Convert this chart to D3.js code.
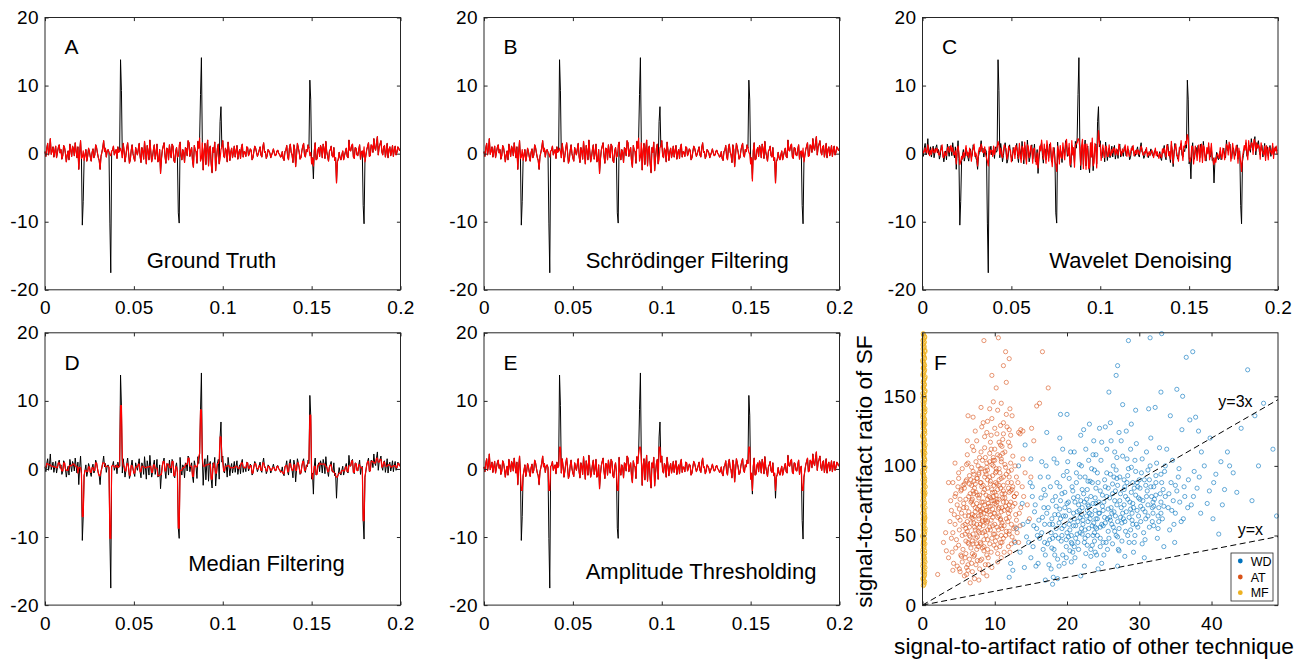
<!DOCTYPE html>
<html><head><meta charset="utf-8">
<script src="https://cdn.jsdelivr.net/npm/d3@7"></script>
<style>
body{margin:0;background:#fff}
svg{display:block;background:#fff}
text{font-family:"Liberation Sans",Arial,Helvetica,sans-serif;fill:#000}
</style>
</head><body>
<svg id="chart" width="1307" height="664"></svg>
<script>
// ---------------- DATA ----------------
const samplePeriod = 0.0005; // s between samples (400 samples over 0.2 s)
// ground truth (red, panel A)
const truth = [
0.3,-0.4,0.8,1.5,-0.2,0.6,2.2,-0.1,0.4,1.0,-0.5,0.3,1.1,-0.6,0.2,0.9,1.3,0.1,0.6,-0.8,
-0.3,1.2,0.9,0.0,-1.2,-0.2,0.4,-0.9,1.4,0.5,-0.4,1.1,0.7,-0.3,1.6,0.4,-0.6,1.0,-2.3,0.2,
1.9,-0.7,-0.5,0.4,-1.0,-0.2,0.6,-1.1,-0.4,0.8,0.3,-0.5,-1.1,0.2,0.7,-0.6,-0.2,1.3,0.9,0.1,
-0.6,-1.0,-2.3,-0.4,0.2,0.9,1.9,0.3,0.8,-0.5,0.4,0.6,0.2,-0.1,-0.3,0.4,0.5,1.1,-0.2,0.3,
0.6,-0.7,1.0,0.2,0.4,0.8,0.3,-0.6,1.5,0.4,-1.2,-0.3,0.8,1.6,0.2,-1.4,-0.9,0.5,1.3,0.0,
-0.6,-1.1,0.9,0.3,-0.2,0.7,1.5,-0.4,-1.3,0.9,0.4,-0.8,1.8,0.2,-1.5,1.2,0.3,-0.9,2.0,0.4,
-1.2,-0.5,0.6,1.3,-0.8,0.1,1.4,-1.2,-1.0,0.6,-2.9,-0.8,0.5,1.1,1.6,-0.3,-1.4,0.8,0.7,-0.9,
1.3,0.2,-0.6,1.4,1.1,-1.0,-1.3,0.3,0.9,-0.5,-0.4,1.2,1.7,-0.2,-0.9,0.6,0.2,-1.3,0.9,0.7,
-0.3,1.9,1.6,-0.4,0.4,0.9,-1.1,-2.0,1.2,0.5,0.3,-1.4,1.8,0.8,2.3,-1.1,-0.7,1.6,-2.4,0.4,
1.5,-1.6,0.6,2.0,-1.8,0.7,1.1,-1.5,-2.8,0.9,0.2,1.7,-2.5,-0.6,0.8,1.4,-1.5,-0.8,0.6,1.0,
1.9,-0.3,-0.6,0.8,0.4,-1.2,1.7,0.5,-1.0,0.2,0.8,-0.6,0.2,1.1,-0.5,0.4,1.2,-0.8,0.1,0.6,
-0.7,0.9,1.4,-0.5,0.3,0.2,-0.4,1.0,0.9,-0.3,0.1,0.7,0.5,-0.9,-0.6,0.3,1.1,0.8,0.2,-0.4,
0.0,0.5,1.0,-0.2,-0.5,0.9,1.6,0.2,0.3,-0.7,-0.3,0.6,0.4,0.1,-0.6,-0.2,0.2,0.7,0.1,-0.3,
-0.2,0.4,0.5,0.0,-0.1,-0.5,-0.4,0.3,-0.7,-1.0,0.3,0.5,1.2,-0.4,-0.9,0.8,1.4,0.2,-0.2,-1.3,
1.3,0.6,-1.9,-0.2,1.5,0.9,0.2,-0.8,-0.6,0.4,1.1,1.5,-0.2,-0.5,0.6,0.3,1.3,0.8,-0.3,0.2,
-1.5,-0.6,-1.8,0.4,1.6,-0.9,-0.8,0.5,0.9,-0.4,1.2,0.7,-0.6,1.4,0.7,-0.7,1.8,0.3,-0.4,-1.1,
0.3,0.6,1.1,-0.3,-0.5,0.9,-1.0,-0.6,-4.3,-1.2,-0.8,0.2,-0.6,-0.9,-0.2,0.4,-0.9,-0.3,0.3,0.8,
-0.4,-0.6,2.0,0.5,0.4,1.2,1.4,-0.5,-0.7,0.9,0.8,-0.2,-0.3,0.6,1.3,-0.8,0.2,0.4,-0.5,1.0,
-1.2,-0.3,0.6,1.1,1.6,-0.4,-0.3,1.3,1.1,0.2,2.2,0.9,0.5,1.6,2.5,-0.2,1.0,1.4,1.9,0.3,
-0.2,1.0,1.2,-0.5,0.4,1.5,-0.6,0.6,1.0,-0.3,0.3,1.2,-0.4,0.5,1.1,-0.2,0.2,1.0,0.8,0.4];
// recorded signal with artifacts (black)
const raw = [
0.3,-0.4,0.8,1.5,-0.2,0.6,2.2,-0.1,0.4,1.0,-0.5,0.3,1.1,-0.6,0.2,0.9,1.3,0.1,0.6,-0.8,
-0.3,1.2,0.9,0.0,-1.2,-0.2,0.4,-0.9,1.4,0.5,-0.4,1.1,0.7,-0.3,1.6,0.4,-0.6,1.0,-2.3,0.2,
1.9,-0.7,-10.5,-7.0,-1.0,-0.2,0.6,-1.1,-0.4,0.8,0.3,-0.5,-1.1,0.2,0.7,-0.6,-0.2,1.3,0.9,0.1,
-0.6,-1.0,-2.3,-0.4,0.2,0.9,1.9,0.3,0.8,-0.5,0.4,0.6,0.2,-10.2,-17.5,0.4,0.5,1.1,-0.2,0.3,
0.6,-0.7,1.0,0.2,0.4,13.8,9.3,-0.6,1.5,0.4,-1.2,-0.3,0.8,1.6,0.2,-1.4,-0.9,0.5,1.3,0.0,
-0.6,-1.1,0.9,0.3,-0.2,0.7,1.5,-0.4,-1.3,0.9,0.4,-0.8,1.8,0.2,-1.5,1.2,0.3,-0.9,2.0,0.4,
-1.2,-0.5,0.6,1.3,-0.8,0.1,1.4,-1.2,-1.0,0.6,-2.9,-0.8,0.5,1.1,1.6,-0.3,-1.4,0.8,0.7,-0.9,
1.3,0.2,-0.6,1.4,1.1,-1.0,-1.3,0.3,0.9,-0.5,-8.7,-10.2,1.7,-0.2,-0.9,0.6,0.2,-1.3,0.9,0.7,
-0.3,1.9,1.6,-0.4,0.4,0.9,-1.1,-2.0,1.2,0.5,0.3,-1.4,1.8,0.8,2.3,8.7,14.1,1.6,-2.4,0.4,
1.5,-1.6,0.6,2.0,-1.8,0.7,1.1,-1.5,-2.8,0.9,0.2,1.7,-2.5,-0.6,0.8,1.4,-1.5,4.7,6.9,1.0,
1.9,-0.3,-0.6,0.8,0.4,-1.2,1.7,0.5,-1.0,0.2,0.8,-0.6,0.2,1.1,-0.5,0.4,1.2,-0.8,0.1,0.6,
-0.7,0.9,1.4,-0.5,0.3,0.2,-0.4,1.0,0.9,-0.3,0.1,0.7,0.5,-0.9,-0.6,0.3,1.1,0.8,0.2,-0.4,
0.0,0.5,1.0,-0.2,-0.5,0.9,1.6,0.2,0.3,-0.7,-0.3,0.6,0.4,0.1,-0.6,-0.2,0.2,0.7,0.1,-0.3,
-0.2,0.4,0.5,0.0,-0.1,-0.5,-0.4,0.3,-0.7,-1.0,0.3,0.5,1.2,-0.4,-0.9,0.8,1.4,0.2,-0.2,-1.3,
1.3,0.6,-1.9,-0.2,1.5,0.9,0.2,-0.8,-0.6,0.4,1.1,1.5,-0.2,-0.5,0.6,0.3,1.3,0.8,10.8,7.9,
-1.5,-0.6,-3.7,0.4,1.6,-0.9,-0.8,0.5,0.9,-0.4,1.2,0.7,-0.6,1.4,0.7,-0.7,1.8,0.3,-0.4,-1.1,
0.3,0.6,1.1,-0.3,-0.5,0.9,-1.0,-0.6,-4.3,-1.2,-0.8,0.2,-0.6,-0.9,-0.2,0.4,-0.9,-0.3,0.3,0.8,
-0.4,-0.6,2.0,0.5,0.4,1.2,1.4,-0.5,-0.7,0.9,0.8,-0.2,-0.3,0.6,1.3,-0.8,0.2,0.4,-7.6,-10.3,
-1.2,-0.3,0.6,1.1,1.6,-0.4,-0.3,1.3,1.1,0.2,2.2,0.9,0.5,1.6,2.5,-0.2,1.0,1.4,1.9,0.3,
-0.2,1.0,1.2,-0.5,0.4,1.5,-0.6,0.6,1.0,-0.3,0.3,1.2,-0.4,0.5,1.1,-0.2,0.2,1.0,0.8,0.4];
// Schrodinger filtering output
const sfOut = [
0.3,-0.4,0.8,1.5,-0.2,0.6,2.2,-0.1,0.4,1.0,-0.5,0.3,1.1,-0.6,0.2,0.9,1.3,0.1,0.6,-0.8,
-0.3,1.2,0.9,0.0,-1.2,-0.2,0.4,-0.9,1.4,0.5,-0.4,1.1,0.7,-0.3,1.6,0.4,-0.6,1.0,-2.3,0.2,
1.9,-0.7,-0.5,0.6,-1.0,-0.2,0.6,-1.1,-0.4,0.8,0.3,-0.5,-1.1,0.2,0.7,-0.6,-0.2,1.3,0.9,0.1,
-0.6,-1.0,-2.3,-0.4,0.2,0.9,1.9,0.3,0.8,-0.5,0.4,0.6,0.2,-0.1,-0.5,0.4,0.5,1.1,-0.2,0.3,
0.6,-0.7,1.0,0.2,0.4,0.8,0.3,-0.6,1.5,0.4,-1.2,-0.3,0.8,1.6,0.2,-1.4,-0.9,0.5,1.3,0.0,
-0.6,-1.1,0.9,0.3,-0.2,0.7,1.5,-0.4,-1.3,0.9,0.4,-0.8,1.8,0.2,-1.5,1.2,0.3,-0.9,2.0,0.4,
-1.2,-0.5,0.6,1.3,-0.8,0.1,1.4,-1.2,-1.0,0.6,-2.9,-0.8,0.5,1.1,1.6,-0.3,-1.4,0.8,0.7,-0.9,
1.3,0.2,-0.6,1.4,1.1,-1.0,-1.3,0.3,0.9,-0.5,-0.4,1.2,1.7,-0.2,-0.9,0.6,0.2,-1.3,0.9,0.7,
-0.3,1.9,1.6,-0.4,0.4,0.9,-1.1,-2.0,1.2,0.5,0.3,-1.4,1.8,0.8,2.3,-1.1,-0.5,1.6,-2.4,0.4,
1.5,-1.6,0.6,2.0,-1.8,0.7,1.1,-1.5,-2.8,0.9,0.2,1.7,-2.5,-0.6,0.8,1.4,-1.5,-0.8,0.9,1.0,
1.9,-0.3,-0.6,0.8,0.4,-1.2,1.7,0.5,-1.0,0.2,0.8,-0.6,0.2,1.1,-0.5,0.4,1.2,-0.8,0.1,0.6,
-0.7,0.9,1.4,-0.5,0.3,0.2,-0.4,1.0,0.9,-0.3,0.1,0.7,0.5,-0.9,-0.6,0.3,1.1,0.8,0.2,-0.4,
0.0,0.5,1.0,-0.2,-0.5,0.9,1.6,0.2,0.3,-0.7,-0.3,0.6,0.4,0.1,-0.6,-0.2,0.2,0.7,0.1,-0.3,
-0.2,0.4,0.5,0.0,-0.1,-0.5,-0.4,0.3,-0.7,-1.0,0.3,0.5,1.2,-0.4,-0.9,0.8,1.4,0.2,-0.2,-1.3,
1.3,0.6,-1.9,-0.2,1.5,0.9,0.2,-0.8,-0.6,0.4,1.1,1.5,-0.2,-0.5,0.6,0.3,1.3,0.8,0.2,-0.1,
-1.5,-0.6,-4.0,0.4,1.6,-0.9,-0.8,0.5,0.9,-0.4,1.2,0.7,-0.6,1.4,0.7,-0.7,1.8,0.3,-0.4,-1.1,
0.3,0.6,1.1,-0.3,-0.5,0.9,-1.0,-0.6,-4.3,-1.2,-0.8,0.2,-0.6,-0.9,-0.2,0.4,-0.9,-0.3,0.3,0.8,
-0.4,-0.6,2.0,0.5,0.4,1.2,1.4,-0.5,-0.7,0.9,0.8,-0.2,-0.3,0.6,1.3,-0.8,0.2,0.4,-0.5,0.8,
-1.2,-0.3,0.6,1.1,1.6,-0.4,-0.3,1.3,1.1,0.2,2.2,0.9,0.5,1.6,2.5,-0.2,1.0,1.4,1.9,0.3,
-0.2,1.0,1.2,-0.5,0.4,1.5,-0.6,0.6,1.0,-0.3,0.3,1.2,-0.4,0.5,1.1,-0.2,0.2,1.0,0.8,0.4];
// wavelet denoising output
const wdOut = [
0.6,0.1,0.3,0.9,0.3,0.1,1.3,0.4,-0.3,0.5,-0.1,0.8,0.4,0.1,0.7,0.2,0.8,0.6,-0.1,-0.2,
0.4,0.6,1.3,-0.5,-0.6,0.3,-0.2,-0.3,0.8,1.0,0.2,0.5,1.2,0.3,0.9,-0.2,-0.1,0.4,-1.5,0.7,
1.1,0.1,-1.6,-1.2,-0.4,-0.8,0.2,-0.5,0.3,1.2,-0.3,0.2,-0.6,0.8,0.1,-1.1,0.4,0.7,1.4,-0.4,
0.1,-0.4,-1.8,0.3,0.9,0.3,1.4,0.9,0.2,0.1,1.0,-0.1,-0.6,-1.1,-1.8,1.0,-0.1,0.5,0.5,-0.4,
1.1,-0.1,0.4,0.9,1.0,1.8,1.2,-0.1,0.8,-0.3,-0.6,0.4,1.3,0.9,0.7,-0.8,-0.2,1.1,0.6,0.5,
-1.2,-0.4,0.3,0.9,-0.7,1.2,0.8,0.2,-0.7,1.5,-0.2,-1.3,1.1,0.8,-0.9,1.7,-0.3,-1.5,1.3,1.0,
-0.6,0.2,1.2,0.6,-1.4,0.7,0.8,-0.5,-1.6,0.1,-2.1,-0.1,1.1,0.4,2.0,0.4,-0.8,1.4,0.1,-1.4,
1.9,0.8,-1.1,0.7,1.6,-0.4,-1.9,0.9,0.2,-1.2,-1.6,-2.6,1.1,0.5,-1.5,1.2,-0.5,-0.7,1.6,0.1,
-0.9,1.3,2.1,0.3,-0.3,1.5,-1.7,-1.3,1.9,-0.2,0.9,-2.0,1.2,1.5,1.6,2.2,2.0,0.9,-1.7,1.1,
2.1,-2.2,1.3,1.4,-2.3,1.4,0.4,-2.2,-2.0,1.6,-0.5,2.3,-1.8,-1.3,1.5,0.8,-2.1,1.5,3.4,1.6,
1.2,-1.0,0.1,1.3,-0.2,-0.6,1.1,1.0,-0.4,-0.4,1.3,0.0,-0.3,0.6,0.1,0.9,0.6,-0.2,0.7,0.1,
-0.2,1.4,0.8,0.1,-0.3,0.7,0.2,0.5,1.3,0.3,-0.4,1.1,0.0,-0.4,0.1,0.8,0.5,1.2,-0.3,0.1,
0.5,-0.1,0.6,0.4,-0.1,0.4,1.1,0.7,-0.2,-0.2,0.3,0.1,0.9,-0.4,-0.1,0.3,-0.3,0.2,0.5,0.1,
-0.6,0.0,0.8,-0.3,0.3,-0.2,-0.7,0.0,-0.3,-0.6,0.7,0.1,0.8,0.1,-0.5,1.3,0.9,-0.3,0.3,-0.8,
1.8,0.1,-1.4,0.4,1.0,1.4,-0.3,-0.3,-1.1,0.9,0.6,1.9,0.3,-1.0,1.1,0.9,1.8,1.4,2.8,2.2,
-0.7,-1.2,-0.6,1.1,1.0,-1.5,-0.2,1.1,0.3,-1.0,0.6,1.3,-1.2,0.8,1.4,-1.3,1.2,0.9,-1.0,-0.5,
0.9,0.0,1.6,-0.9,0.1,1.5,-0.4,-1.1,-1.6,-0.6,-1.3,-0.4,0.0,-0.4,-0.7,0.9,-0.3,-0.8,0.8,0.2,
-0.9,0.0,1.4,1.1,-0.2,1.7,0.8,-1.1,-0.1,1.5,0.2,-0.8,0.3,1.2,0.7,-1.4,0.8,-0.2,-1.2,-2.6,
-0.5,0.3,1.2,0.5,2.0,0.2,-0.9,1.9,0.5,0.8,1.6,1.5,-0.1,2.1,1.8,0.4,1.6,0.8,1.3,0.9,
-0.8,1.6,0.6,0.1,-0.2,1.1,-1.0,1.2,0.4,-0.9,0.9,0.6,0.2,-0.1,1.5,-0.7,0.8,0.4,1.1,-0.1];
// median filtering output
const mfOut = [
0.3,0.3,0.8,0.8,0.6,0.6,0.6,0.4,0.4,0.4,0.3,0.3,0.3,0.2,0.2,0.9,0.9,0.6,0.1,-0.3,
-0.3,0.9,0.9,0.0,-0.2,-0.2,-0.2,0.4,0.5,0.5,0.5,0.7,0.7,0.7,0.4,0.4,0.4,-0.6,0.2,0.2,
0.2,-0.7,-7.0,-7.0,-1.0,-0.2,-0.2,-0.4,-0.4,0.3,0.3,-0.5,-0.5,0.2,0.2,-0.2,-0.2,0.9,0.9,0.1,
-0.6,-1.0,-1.0,-0.4,0.2,0.9,0.9,0.8,0.3,0.4,0.4,0.4,0.2,-10.2,-10.2,0.4,0.5,0.5,0.3,0.3,
0.3,0.6,0.2,0.4,0.4,9.3,9.3,1.5,0.4,0.4,-0.3,-0.3,0.8,0.8,0.2,-0.9,-0.9,0.5,0.5,0.0,
-0.6,-0.6,0.3,0.3,0.3,0.7,0.7,-0.4,-0.4,0.4,0.4,0.4,0.2,0.2,0.2,0.3,0.3,0.3,0.4,0.4,
-0.5,-0.5,0.6,0.6,0.1,0.1,0.1,-1.0,-1.0,-1.0,-0.8,-0.8,0.5,1.1,1.1,-0.3,-0.3,0.7,0.7,0.7,
0.2,0.2,0.2,1.1,1.1,-1.0,-1.0,0.3,0.3,-0.5,-8.7,-8.7,-0.2,-0.2,-0.2,0.2,0.2,0.2,0.7,0.7,
0.7,1.6,1.6,0.4,0.4,0.4,-1.1,-1.1,0.5,0.5,0.3,0.3,0.8,1.8,2.3,8.7,8.7,1.6,0.4,0.4,
0.4,0.6,0.6,0.6,0.7,0.7,0.7,-1.5,-1.5,0.2,0.9,0.2,-0.6,-0.6,0.8,0.8,1.4,4.7,4.7,1.9,
1.0,-0.3,-0.3,0.4,0.4,0.4,0.5,0.5,0.2,0.2,0.2,0.2,0.2,0.2,0.4,0.4,0.4,0.1,0.1,0.1,
0.6,0.9,0.9,0.3,0.2,0.2,0.2,0.9,0.9,0.1,0.1,0.5,0.5,-0.6,-0.6,0.3,0.8,0.8,0.2,0.0,
0.0,0.5,0.5,-0.2,-0.2,0.9,0.9,0.3,0.2,-0.3,-0.3,0.4,0.4,0.1,-0.2,-0.2,0.2,0.2,0.1,-0.2,
-0.2,0.4,0.4,0.0,-0.1,-0.4,-0.4,-0.4,-0.7,-0.7,0.3,0.5,0.5,-0.4,-0.4,0.8,0.8,0.2,-0.2,-0.2,
0.6,0.6,-0.2,-0.2,0.9,0.9,0.2,-0.6,-0.6,0.4,1.1,1.1,-0.2,-0.2,0.3,0.6,0.8,1.3,7.9,7.9,
-0.6,-1.5,-0.6,0.4,0.4,-0.8,-0.8,0.5,0.5,0.9,0.7,0.7,0.7,0.7,0.7,0.7,0.3,0.3,-0.4,-0.4,
0.3,0.6,0.6,-0.3,-0.3,-0.5,-0.6,-1.0,-1.2,-1.2,-0.8,-0.6,-0.6,-0.6,-0.2,-0.2,-0.3,-0.3,0.3,0.3,
-0.4,-0.4,0.5,0.5,0.5,1.2,1.2,-0.5,-0.5,0.8,0.8,-0.2,-0.2,0.6,0.6,0.2,0.2,0.2,-7.6,-7.6,
-1.2,-0.3,0.6,1.1,1.1,-0.3,-0.3,1.1,1.1,1.1,0.9,0.9,0.9,1.6,1.6,1.0,1.0,1.4,1.4,0.3,
0.3,1.0,1.0,0.4,0.4,0.4,0.6,0.6,0.6,0.3,0.3,0.3,0.5,0.5,0.5,0.2,0.2,0.8,0.8,0.4];
// amplitude thresholding output
const atOut = [
0.3,-0.4,0.8,1.5,-0.2,0.6,2.2,-0.1,0.4,1.0,-0.5,0.3,1.1,-0.6,0.2,0.9,1.3,0.1,0.6,-0.8,
-0.3,1.2,0.9,0.0,-1.2,-0.2,0.4,-0.9,1.4,0.5,-0.4,1.1,0.7,-0.3,1.6,0.4,-0.6,1.0,-2.3,0.2,
1.9,-0.7,-3.15,-3.15,-1.0,-0.2,0.6,-1.1,-0.4,0.8,0.3,-0.5,-1.1,0.2,0.7,-0.6,-0.2,1.3,0.9,0.1,
-0.6,-1.0,-2.3,-0.4,0.2,0.9,1.9,0.3,0.8,-0.5,0.4,0.6,0.2,-3.15,-3.15,0.4,0.5,1.1,-0.2,0.3,
0.6,-0.7,1.0,0.2,0.4,3.2,3.2,-0.6,1.5,0.4,-1.2,-0.3,0.8,1.6,0.2,-1.4,-0.9,0.5,1.3,0.0,
-0.6,-1.1,0.9,0.3,-0.2,0.7,1.5,-0.4,-1.3,0.9,0.4,-0.8,1.8,0.2,-1.5,1.2,0.3,-0.9,2.0,0.4,
-1.2,-0.5,0.6,1.3,-0.8,0.1,1.4,-1.2,-1.0,0.6,-2.9,-0.8,0.5,1.1,1.6,-0.3,-1.4,0.8,0.7,-0.9,
1.3,0.2,-0.6,1.4,1.1,-1.0,-1.3,0.3,0.9,-0.5,-3.15,-3.15,1.7,-0.2,-0.9,0.6,0.2,-1.3,0.9,0.7,
-0.3,1.9,1.6,-0.4,0.4,0.9,-1.1,-2.0,1.2,0.5,0.3,-1.4,1.8,0.8,2.3,3.2,3.2,1.6,-2.4,0.4,
1.5,-1.6,0.6,2.0,-1.8,0.7,1.1,-1.5,-2.8,0.9,0.2,1.7,-2.5,-0.6,0.8,1.4,-1.5,3.2,3.2,1.0,
1.9,-0.3,-0.6,0.8,0.4,-1.2,1.7,0.5,-1.0,0.2,0.8,-0.6,0.2,1.1,-0.5,0.4,1.2,-0.8,0.1,0.6,
-0.7,0.9,1.4,-0.5,0.3,0.2,-0.4,1.0,0.9,-0.3,0.1,0.7,0.5,-0.9,-0.6,0.3,1.1,0.8,0.2,-0.4,
0.0,0.5,1.0,-0.2,-0.5,0.9,1.6,0.2,0.3,-0.7,-0.3,0.6,0.4,0.1,-0.6,-0.2,0.2,0.7,0.1,-0.3,
-0.2,0.4,0.5,0.0,-0.1,-0.5,-0.4,0.3,-0.7,-1.0,0.3,0.5,1.2,-0.4,-0.9,0.8,1.4,0.2,-0.2,-1.3,
1.3,0.6,-1.9,-0.2,1.5,0.9,0.2,-0.8,-0.6,0.4,1.1,1.5,-0.2,-0.5,0.6,0.3,1.3,0.8,3.2,3.2,
-1.5,-0.6,-3.15,0.4,1.6,-0.9,-0.8,0.5,0.9,-0.4,1.2,0.7,-0.6,1.4,0.7,-0.7,1.8,0.3,-0.4,-1.1,
0.3,0.6,1.1,-0.3,-0.5,0.9,-1.0,-0.6,-3.15,-1.2,-0.8,0.2,-0.6,-0.9,-0.2,0.4,-0.9,-0.3,0.3,0.8,
-0.4,-0.6,2.0,0.5,0.4,1.2,1.4,-0.5,-0.7,0.9,0.8,-0.2,-0.3,0.6,1.3,-0.8,0.2,0.4,-3.15,-3.15,
-1.2,-0.3,0.6,1.1,1.6,-0.4,-0.3,1.3,1.1,0.2,2.2,0.9,0.5,1.6,2.5,-0.2,1.0,1.4,1.9,0.3,
-0.2,1.0,1.2,-0.5,0.4,1.5,-0.6,0.6,1.0,-0.3,0.3,1.2,-0.4,0.5,1.1,-0.2,0.2,1.0,0.8,0.4];

const panelLetters = ['A','B','C','D','E','F'];
const captions = ['Ground Truth','Schrödinger Filtering','Wavelet Denoising','Median Filtering','Amplitude Thresholding'];
const timeTicks = [0,0.05,0.1,0.15,0.2];
const timeTickLabels = ['0','0.05','0.1','0.15','0.2'];
const ampTicks = [-20,-10,0,10,20];
const ampTickLabels = ['-20','-10','0','10','20'];

// panel F: signal-to-artifact ratios [other technique, SF]
const wdPoints = [[12.2,30],[12.8,45],[13.5,38],[14.1,27],[13.0,55],[14.6,60],[13.8,73],[14.4,49],[12.5,25],[15.0,34],[14.9,88],[13.3,100],[14.2,115],[15.0,105],[12.0,20],
[15.3,42],[15.8,55],[16.2,48],[16.6,63],[17.0,36],[17.4,70],[17.8,52],[15.5,67],[16.0,30],[16.4,77],[16.9,58],[17.3,44],[17.7,85],[15.7,28],[16.3,92],[17.1,100],[17.9,62],[15.2,78],[16.7,40],[17.5,29],[18.0,75],[16.1,61],[15.9,50],[17.6,47],[16.5,103],[17.2,124],[15.4,57],[16.8,70],[17.0,18],[18.0,15],
[18.2,40],[18.5,55],[18.8,48],[19.1,62],[19.4,36],[19.7,70],[20.0,52],[20.3,58],[20.6,45],[20.9,66],[18.4,78],[18.7,33],[19.0,85],[19.3,50],[19.6,57],[19.9,42],[20.2,74],[20.5,61],[20.8,38],[18.3,65],[18.9,28],[19.5,93],[20.1,103],[20.7,85],[18.6,102],[19.2,46],[19.8,64],[20.4,54],[18.1,20],[19.0,120],[20.0,96],[20.6,50],[18.9,59],[19.6,30],[20.3,68],[18.5,71],[19.3,80],[20.9,57],[18.0,48],[19.9,47],[20.5,110],[19.1,137],[20.0,137],[18.7,19],[21.0,42],
[21.2,48],[21.5,60],[21.8,52],[22.1,70],[22.4,45],[22.7,64],[23.0,55],[23.3,78],[23.6,50],[23.9,68],[21.3,88],[21.6,40],[21.9,75],[22.2,58],[22.5,92],[22.8,43],[23.1,66],[23.4,98],[23.7,59],[24.0,84],[21.1,34],[21.4,67],[21.7,101],[22.0,55],[22.3,80],[22.6,37],[22.9,72],[23.2,62],[23.5,88],[23.8,46],[21.0,62],[21.8,92],[22.4,28],[22.7,76],[23.0,104],[23.3,40],[23.6,73],[23.9,56],[22.1,51],[22.9,60],[21.5,78],[22.6,112],[23.7,118],[21.9,122],[22.3,126],[23.1,130],[23.9,38],[21.2,57],[22.8,83],[23.4,65],[22.0,65],[22.5,48],[23.8,97],[21.6,72],[24.0,62],
[24.2,50],[24.5,66],[24.8,58],[25.1,74],[25.4,45],[25.7,69],[26.0,61],[26.3,80],[26.6,53],[26.9,72],[24.3,88],[24.6,42],[24.9,79],[25.2,63],[25.5,95],[25.8,48],[26.1,70],[26.4,100],[26.7,64],[27.0,86],[24.1,36],[24.4,74],[24.7,104],[25.0,57],[25.3,85],[25.6,40],[25.9,77],[26.2,66],[26.5,92],[26.8,50],[24.0,108],[24.8,30],[25.5,112],[26.1,118],[26.9,106],[24.5,127],[25.3,128],[26.0,131],[25.8,153],[26.8,165],[27.0,172],[24.2,62],[25.0,68],[25.7,84],[26.4,56],[26.6,75],[25.1,36],[24.6,56],[26.3,44],[27.0,60],
[27.2,55],[27.5,70],[27.8,62],[28.1,78],[28.4,50],[28.7,74],[29.0,66],[29.3,84],[29.6,58],[29.9,77],[27.3,92],[27.6,46],[27.9,83],[28.2,67],[28.5,98],[28.8,54],[29.1,73],[29.4,104],[29.7,68],[30.0,90],[27.1,40],[27.4,80],[27.7,107],[28.0,60],[28.3,88],[28.6,45],[28.9,81],[29.2,70],[29.5,96],[29.8,56],[27.5,118],[28.2,125],[28.9,130],[29.5,140],[27.7,144],[28.5,190],[28.0,35],[29.2,38],[27.0,28],[29.9,64],[28.8,112],[27.9,72],[29.4,50],[28.4,76],[29.1,88],
[30.2,60],[30.5,75],[30.8,67],[31.1,82],[31.4,56],[31.7,78],[32.0,71],[32.3,88],[32.6,64],[32.9,80],[30.3,95],[30.6,52],[30.9,86],[31.2,72],[31.5,100],[31.8,60],[32.1,76],[32.4,102],[32.7,70],[33.0,94],[30.4,44],[31.0,110],[31.6,120],[32.2,142],[32.8,113],[31.3,141],[33.0,153],[31.5,192],[32.0,57],[30.7,34],[32.5,48],[31.9,66],[30.1,84],[33.0,74],[31.4,90],
[33.2,62],[33.6,78],[34.0,70],[34.4,88],[34.8,58],[35.2,82],[35.6,74],[33.5,96],[34.2,54],[34.6,104],[35.0,66],[35.4,92],[33.8,112],[34.3,136],[35.2,155],[33.4,42],[35.8,60],[34.9,45],[33.1,195],[36.0,150],
[36.3,78],[36.8,90],[37.2,72],[37.6,96],[38.0,84],[38.5,66],[39.0,100],[36.5,178],[37.4,182],[37.0,133],[37.8,135],[38.6,110],[39.4,73],[36.1,62],
[40.2,62],[41.0,51],[41.3,103],[42.5,100],[40.6,94],[41.8,83],[43.0,95],[44.1,127],[45.0,169],[45.6,75],[46.0,136],[46.5,100],[47.2,145],[48.5,112],[49.0,64],[40.3,88],
[16.5,52],[17.2,66],[17.9,41],[18.6,88],[19.3,55],[20.0,73],[20.7,44],[21.4,51],[22.1,83],[22.8,68],[23.5,57],[24.2,95],[24.9,71],[25.6,62],[26.3,87],[27.0,49],[27.7,66],[28.4,93],[29.1,58],[29.8,85],[30.5,69],[31.2,97],[31.9,74],[32.6,55],[33.3,83],[17.6,58],[18.3,36],[19.0,69],[19.7,81],[20.4,39],[21.1,74],[21.8,63],[22.5,54],[23.2,89],[23.9,77],[24.6,48],[25.3,59],[26.0,94],[26.7,82],[27.4,63],[28.1,53],[28.8,69],[29.5,79],[30.2,71],[30.9,62],[31.6,85],[32.3,79],[33.0,66],[16.9,45],[18.0,58],[19.1,75],[20.2,49],[21.3,95],[22.4,74],[23.5,43],[24.6,82],[25.7,53],[26.8,97],[27.9,90],[29.0,61],[30.1,76],[31.2,64],[32.3,93],[33.4,71],[18.8,65],[20.9,77],[22.2,61],[23.0,71],[24.4,66],[25.9,63],[27.3,75],[28.6,63],[29.7,88],[31.0,78],[19.5,64],[21.7,68],[23.8,52],[25.2,90],[26.5,67],[28.0,85],[22.9,50],[20.3,91],[24.1,55],[26.2,58],[27.6,59],[25.0,45],[21.5,45],[19.9,34],[23.3,35],[27.2,39],[30.8,47],[29.3,45],[32.7,60],[34.5,68],[35.0,86],[34.1,80],[33.6,100],[17.4,92],[18.2,105],[21.0,110],[23.6,108],[26.6,110],[28.3,105],[30.4,105],[29.6,116],[27.2,124],[24.8,117],[22.0,100],[19.4,112],[16.8,83],[15.6,72],[14.7,45],[13.9,58],[15.2,85],[17.8,26],[20.6,31],[24.3,26],[21.9,21],[22.9,89],[25.5,78],[24.0,73],[26.9,91],[28.9,99],[30.7,90],[32.0,85],[20.8,82],[18.4,50],[17.0,79],[31.8,70],[33.1,88],[34.7,75],[36.2,85],[37.5,78],[35.5,98],[36.7,70],[38.3,92],[39.7,82],[41.5,72],[43.5,81],[42.2,110],[39.8,120],[38.2,125],[35.9,126]];

const atPoints = [[6.6,16],[7.2,19],[5.8,21],[8.4,23],[2.1,22],[6.9,24],[7.8,18],[5.2,24],[8.9,21],[6.3,25],
[4.8,28],[6.1,27],[7.4,29],[5.5,31],[8.2,33],[6.8,30],[9.6,27],[3.6,34],[7.9,26],[5.9,34],[10.4,31],[6.5,33],[8.7,29],[4.3,30],[7.1,35],[9.1,34],[5.1,26],[6.3,29],[10.9,34],[8.0,32],
[4.1,38],[5.6,40],[6.9,37],[7.7,42],[8.5,39],[9.3,44],[10.2,41],[11.3,38],[5.0,43],[6.4,44],[7.2,36],[8.9,36],[9.9,43],[10.8,45],[6.0,37],[7.5,40],[8.1,44],[9.5,38],[4.6,41],[11.9,42],[5.3,36],[6.7,41],[10.4,37],[3.3,39],[12.3,44],[7.0,44],[8.3,41],[9.0,40],
[4.7,47],[5.5,50],[6.2,53],[6.9,46],[7.6,49],[8.3,52],[9.0,47],[9.8,51],[10.5,54],[11.2,48],[12.0,51],[12.7,46],[5.1,54],[6.6,49],[7.3,54],[8.0,45],[8.8,50],[9.4,54],[10.1,46],[10.9,50],[11.6,53],[12.4,49],[6.0,46],[7.9,52],[9.6,48],[11.0,45],[5.9,51],[8.5,47],[13.1,52],[7.0,51],[10.3,49],[4.2,52],
[4.5,58],[5.2,61],[5.9,64],[6.5,56],[7.1,59],[7.8,62],[8.4,57],[9.0,60],[9.7,63],[10.3,56],[11.0,59],[11.6,62],[12.3,58],[13.0,61],[5.6,57],[6.2,60],[6.8,63],[7.5,58],[8.1,65],[8.7,61],[9.3,56],[10.0,58],[10.6,64],[11.3,57],[12.0,63],[12.8,56],[7.2,64],[8.9,59],[10.8,61],[6.0,55],[9.5,61],[11.8,60],[4.9,63],[13.5,57],[7.9,56],[8.3,60],
[4.0,68],[4.8,72],[5.4,66],[6.1,70],[6.7,74],[7.3,67],[7.9,71],[8.5,66],[9.1,73],[9.7,69],[10.3,74],[10.9,67],[11.5,71],[12.1,68],[12.8,73],[13.4,66],[5.7,73],[6.4,67],[7.0,72],[7.6,69],[8.2,74],[8.8,68],[9.4,71],[10.0,66],[10.6,70],[11.2,74],[11.8,69],[12.5,71],[6.9,65],[8.0,68],[9.2,67],[10.2,72],[11.0,70],[5.1,69],[7.5,73],[9.9,75],[12.2,74],[8.6,72],
[4.5,78],[5.3,82],[6.0,76],[6.6,80],[7.2,84],[7.8,77],[8.4,81],[9.0,76],[9.6,83],[10.2,79],[10.8,84],[11.4,77],[12.0,81],[12.7,78],[5.8,84],[6.4,78],[7.0,82],[7.6,79],[8.2,85],[8.8,79],[9.4,77],[10.0,81],[10.6,76],[11.2,82],[11.9,84],[13.0,80],[6.9,76],[8.6,83],[9.8,78],[11.0,80],[4.9,85],[7.4,81],[10.4,83],[12.4,83],
[4.2,88],[5.0,91],[5.8,87],[6.5,93],[7.1,89],[7.8,94],[8.4,86],[9.0,90],[9.7,93],[10.3,87],[10.9,91],[11.6,94],[12.3,88],[13.0,92],[6.1,90],[6.8,86],[7.5,91],[8.1,88],[8.8,94],[9.4,89],[10.1,95],[10.6,90],[11.2,86],[12.0,92],[3.6,88],[8.6,92],[9.9,86],[7.3,87],
[5.5,98],[6.3,102],[7.0,96],[7.7,100],[8.3,104],[9.0,97],[9.6,101],[10.2,96],[10.9,103],[11.5,99],[12.2,102],[6.8,99],[8.0,98],[8.9,102],[9.8,104],[10.6,98],[11.9,96],[4.5,102],[7.4,103],[12.8,100],
[6.2,108],[7.1,111],[7.9,106],[8.6,113],[9.3,109],[10.0,112],[10.7,107],[11.4,110],[12.1,114],[8.1,110],[9.8,106],[11.0,114],[6.9,114],[12.5,107],
[7.5,118],[8.6,121],[9.4,117],[10.3,123],[11.1,119],[12.2,122],[13.3,124],[13.9,125],[8.9,124],[11.9,117],
[8.2,128],[9.0,132],[10.0,127],[11.2,131],[12.0,126],[13.6,126],[9.6,134],[10.8,129],
[9.3,141],[10.4,140],[11.6,137],[6.3,136],[10.9,145],[12.1,141],
[8.5,190],[10.5,192],[11.5,182],[12.0,177],[11.2,172],[9.6,165],[10.2,156],[16.6,182],[17.4,156],[15.8,143],[16.2,145],[11.6,160],[13.5,123],[15.1,127],
[14.2,95],[13.8,85],[15.0,92],[14.5,72],[13.9,105],[15.4,118],[14.8,62],
[6.3,45],[7.4,48],[8.6,53],[9.7,57],[10.8,62],[11.9,66],[5.7,70],[6.8,75],[7.9,79],[9.0,84],[10.1,88],[11.2,92],[12.3,97],[6.1,101],[7.2,56],[8.3,61],[9.4,65],[10.5,69],[11.6,74],[12.7,78],[5.4,83],[6.5,87],[7.6,91],[8.7,96],[9.8,100],[10.9,105],[12.0,53],[5.9,58],[7.0,62],[8.1,67],[9.2,71],[10.3,76],[11.4,80],[12.5,85],[6.0,89],[7.1,94],[8.2,98],[9.3,103],[10.4,108],[11.5,50],[12.6,55],[6.7,59],[7.8,64],[8.9,68],[10.0,73],[11.1,77],[12.2,82],[5.6,86],[6.7,90],[7.8,95],[8.9,99],[10.0,104],[11.1,109],[9.2,78],[8.4,74],[9.7,81],[10.6,86],[8.0,88],[9.3,92],[10.7,95],[7.3,70],[8.8,63],[9.9,66],[10.9,57],[7.7,53],[6.4,64],[5.2,76],[4.4,65],[3.8,60],[4.0,48],[3.2,52],[2.9,45],[6.2,118],[7.3,125],[8.4,131],[9.5,122],[10.6,117],[11.7,128],[7.0,135],[9.8,146],[12.4,136],[8.1,142],[5.0,95],[4.6,80],[3.9,75],[12.9,65],[13.2,88],[13.6,70],[14.0,78],[13.3,45],[12.1,38],[10.7,42],[9.1,29],[7.6,32],[5.4,35],[6.1,22],[4.2,25],[8.0,58],[9.0,54],[10.0,51],[11.0,55],[6.5,50],[7.5,44],[8.5,42],[9.6,75],[10.4,63],[11.3,68],[12.0,72],[8.3,69],[7.1,80],[9.4,87],[11.8,88],[10.2,98],[11.4,101],[8.7,106],[9.5,112],[10.8,115],[11.2,123]];

const mfPoints = [[0.12,14],[0.2,16],[0.12,18],[0.25,21],[0.08,23],[0.31,24],[0.18,26],[0.05,28],[0.22,29],[0.35,31],[0.1,33],[0.27,34],[0.15,36],[0.04,38],[0.3,39],[0.2,41],[0.09,43],[0.33,44],[0.14,46],[0.24,47],[0.06,49],[0.29,51],[0.17,52],[0.11,54],[0.36,55],[0.21,57],[0.07,58],[0.26,60],[0.13,61],[0.32,63],[0.19,64],[0.03,66],[0.23,67],[0.16,69],[0.34,70],[0.1,72],[0.28,73],[0.05,75],[0.2,76],[0.12,78],[0.3,79],[0.08,81],[0.25,82],[0.17,84],[0.38,85],[0.14,87],[0.22,88],[0.06,90],[0.31,91],[0.19,93],[0.11,94],[0.27,96],[0.04,97],[0.35,99],[0.15,100],[0.23,102],[0.09,103],[0.29,105],[0.18,106],[0.13,108],[0.33,109],[0.07,111],[0.24,112],[0.16,114],[0.37,115],[0.1,117],[0.28,118],[0.2,120],[0.05,121],[0.32,123],[0.14,124],[0.26,126],[0.09,127],[0.21,129],[0.35,130],[0.12,132],[0.3,133],[0.06,135],[0.18,136],[0.25,138],[0.11,140],[0.34,141],[0.15,143],[0.22,145],[0.08,146],[0.29,148],[0.17,150],[0.04,152],[0.32,153],[0.2,155],[0.13,157],[0.27,158],[0.1,160],[0.24,162],[0.36,164],[0.07,165],[0.19,167],[0.3,169],[0.14,171],[0.23,173],[0.05,175],[0.28,177],[0.16,179],[0.11,181],[0.33,183],[0.21,185],[0.08,187],[0.26,189],[0.15,191],[0.3,193],[0.1,195],[0.2,98],[0.25,110],[0.15,80],[0.3,62],[0.1,130],[0.18,45],[0.27,150],[0.12,170],
[0.22,15],[0.3,17],[0.06,19],[0.17,20],[0.28,22],[0.13,25],[0.34,27],[0.09,30],[0.24,32],[0.16,35],[0.31,37],[0.07,40],[0.2,42],[0.12,44.5],[0.27,48],[0.04,50],[0.33,53],[0.15,56],[0.23,59],[0.1,62],[0.29,65],[0.18,68],[0.06,71],[0.25,74],[0.14,77],[0.35,80.5],[0.09,83],[0.21,86],[0.3,89],[0.16,92],[0.05,95],[0.26,98.5],[0.12,101],[0.32,104],[0.19,107],[0.08,110],[0.27,113],[0.14,116],[0.22,119],[0.04,122],[0.3,125],[0.17,128],[0.11,131],[0.25,134],[0.07,137],[0.33,139],[0.2,142],[0.13,144],[0.28,147],[0.06,149],[0.18,151],[0.35,154],[0.1,156],[0.24,159],[0.15,161],[0.31,163],[0.08,166],[0.21,168],[0.12,170.5],[0.29,172],[0.17,174],[0.05,176],[0.26,178],[0.14,180],[0.34,182],[0.09,184],[0.22,186],[0.18,188],[0.07,190],[0.3,192],[0.13,194]];

const techniqueNames = ['WD','AT','MF'];
const refSlopes = [3,1];
const refLabels = ['y=3x','y=x'];
const sarXTicks = [0,10,20,30,40];
const sarYTicks = [0,50,100,150];
const sarXLabel = 'signal-to-artifact ratio of other technique';
const sarYLabel = 'signal-to-artifact ratio of SF';

// ---------------- LAYOUT / STYLE ----------------
const svg = d3.select('#chart');
const W = 355.5, H = 272.3;
const colX = [45, 484, 922.5];
const rowY = [17.5, 332.8];
const axisColor = '#262626';
const tickFont = 19;
const colors = {WD:'#0072BD', AT:'#D95319', MF:'#EDB120'};
const captionPos = [[146.7,268.3],[585.7,268.3],[1049.3,268.3],[188.3,570.7],[585.7,579.3]];

svg.append('rect').attr('width',1307).attr('height',664).attr('fill','#fff');

function frame(g, x, y, xTicks, xLabels, yTicks, yLabels) {
  const tl = 3.6;
  const bottom = g.append('g').attr('transform',`translate(0,${H})`)
    .call(d3.axisBottom(x).tickValues(xTicks).tickFormat((d,i)=>xLabels[i]).tickSizeInner(-tl).tickSizeOuter(0).tickPadding(11));
  const top = g.append('g')
    .call(d3.axisTop(x).tickValues(xTicks).tickFormat('').tickSizeInner(-tl).tickSizeOuter(0));
  const left = g.append('g')
    .call(d3.axisLeft(y).tickValues(yTicks).tickFormat((d,i)=>yLabels[i]).tickSizeInner(-tl).tickSizeOuter(0).tickPadding(6));
  const right = g.append('g').attr('transform',`translate(${W},0)`)
    .call(d3.axisRight(y).tickValues(yTicks).tickFormat('').tickSizeInner(-tl).tickSizeOuter(0));
  [bottom, top, left, right].forEach(a => {
    a.selectAll('.domain').remove();
    a.selectAll('line').attr('stroke', axisColor).attr('stroke-width', 1);
    a.selectAll('text').attr('font-size', tickFont).attr('font-family','"Liberation Sans",Arial,sans-serif')
      .attr('fill', axisColor).style('letter-spacing','0.4px');
  });
  g.append('rect').attr('width', W).attr('height', H).attr('fill','none')
    .attr('stroke', axisColor).attr('stroke-width', 1);
}

// ---------------- PANELS A-E ----------------
const filtered = [truth, sfOut, wdOut, mfOut, atOut];
filtered.forEach((series, k) => {
  const col = k % 3, row = Math.floor(k / 3);
  const g = svg.append('g').attr('transform', `translate(${colX[col]},${rowY[row]})`);
  const x = d3.scaleLinear().domain([0, 0.2]).range([0, W]);
  const y = d3.scaleLinear().domain([-20, 20]).range([H, 0]);
  const line = d3.line().x((d, i) => x(i * samplePeriod)).y(d => y(d));
  g.append('path').datum(raw).attr('d', line).attr('fill','none')
    .attr('stroke','#000').attr('stroke-width', 1).attr('stroke-linejoin','round');
  g.append('path').datum(series).attr('d', line).attr('fill','none')
    .attr('stroke','#ff0000').attr('stroke-width', 1.2).attr('stroke-linejoin','round');
  frame(g, x, y, timeTicks, timeTickLabels, ampTicks, ampTickLabels);
  g.append('text').attr('x', 19.5).attr('y', row === 0 ? 36.5 : 37.2)
    .attr('font-size', 21).text(panelLetters[k]);
  svg.append('text').attr('x', captionPos[k][0]).attr('y', captionPos[k][1])
    .attr('font-size', 22).text(captions[k]);
});

// ---------------- PANEL F ----------------
(function(){
  const g = svg.append('g').attr('transform', `translate(${colX[2]},${rowY[1]})`);
  const x = d3.scaleLinear().domain([0, 49.2]).range([0, W]);
  const y = d3.scaleLinear().domain([0, 195.6]).range([H, 0]);
  const groups = [[wdPoints,'WD'],[atPoints,'AT'],[mfPoints,'MF']];
  groups.forEach(([pts, name]) => {
    g.append('g').selectAll('circle').data(pts).join('circle')
      .attr('cx', d => x(d[0])).attr('cy', d => y(d[1])).attr('r', 2.1)
      .attr('fill','none').attr('stroke', colors[name]).attr('stroke-width', name === 'MF' ? 0.9 : 0.6);
  });
  refSlopes.forEach(s => {
    g.append('line').attr('x1', x(0)).attr('y1', y(0))
      .attr('x2', x(49.2)).attr('y2', y(49.2 * s))
      .attr('stroke','#000').attr('stroke-width', 1).attr('stroke-dasharray','6,3.5');
  });
  frame(g, x, y, sarXTicks, sarXTicks.map(String), sarYTicks, sarYTicks.map(String));
  svg.append('text').attr('x', 1218.3).attr('y', 407).attr('font-size', 16).text(refLabels[0]);
  svg.append('text').attr('x', 1237.7).attr('y', 535).attr('font-size', 16).text(refLabels[1]);
  svg.append('text').attr('x', 934).attr('y', 369.5).attr('font-size', 21).text(panelLetters[5]);
  // legend
  const lg = svg.append('g');
  lg.append('rect').attr('x', 1231).attr('y', 553).attr('width', 42).attr('height', 48)
    .attr('fill','#fff').attr('stroke', axisColor).attr('stroke-width', 0.8);
  const ly = [561, 577, 592.7];
  techniqueNames.forEach((n, i) => {
    lg.append('circle').attr('cx', 1240.3).attr('cy', ly[i]).attr('r', 2.4).attr('fill', colors[n]);
    lg.append('text').attr('x', 1250.7).attr('y', ly[i] + 4.6).attr('font-size', 12.5).text(n);
  });
  // axis labels
  svg.append('text').attr('x', 1094).attr('y', 654).attr('text-anchor','middle')
    .attr('font-size', 22.7).attr('fill', axisColor).text(sarXLabel);
  svg.append('text').attr('transform', 'translate(872,471.5) rotate(-90)').attr('text-anchor','middle')
    .attr('font-size', 22.7).attr('fill', axisColor).text(sarYLabel);
})();
</script>
</body></html>
